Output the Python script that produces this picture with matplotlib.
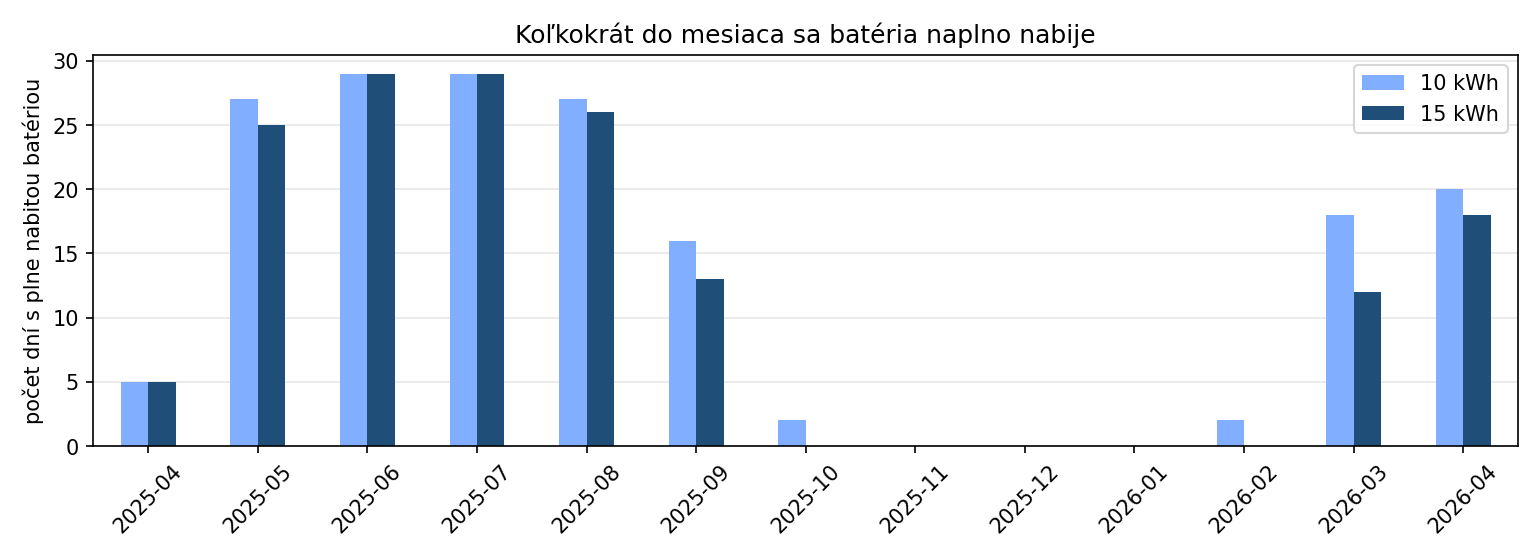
import numpy as np
import matplotlib
matplotlib.use('Agg')
import matplotlib.pyplot as plt

months = ['2025-04', '2025-05', '2025-06', '2025-07', '2025-08', '2025-09', '2025-10',
          '2025-11', '2025-12', '2026-01', '2026-02', '2026-03', '2026-04']
full_10 = [5, 27, 29, 29, 27, 16, 2, 0, 0, 0, 2, 18, 20]
full_15 = [5, 25, 29, 29, 26, 13, 0, 0, 0, 0, 0, 12, 18]

fig, ax = plt.subplots(figsize=(10.27, 3.73), dpi=150)
x = np.arange(len(months))
w = 0.25
ax.bar(x - w / 2, full_10, w, label='10 kWh', color='#82aeff')
ax.bar(x + w / 2, full_15, w, label='15 kWh', color='#1f4e79')

ax.set_xticks(x)
ax.set_xticklabels(months, rotation=45)
ax.set_xlim(-0.5, len(months) - 0.5)
ax.set_ylabel('počet dní s plne nabitou batériou')
ax.set_title('Koľkokrát do mesiaca sa batéria naplno nabije')
ax.yaxis.grid(True, alpha=0.3)
ax.set_axisbelow(True)
ax.legend(loc='upper right')

plt.tight_layout()
fig.savefig('out.png', dpi=150)
